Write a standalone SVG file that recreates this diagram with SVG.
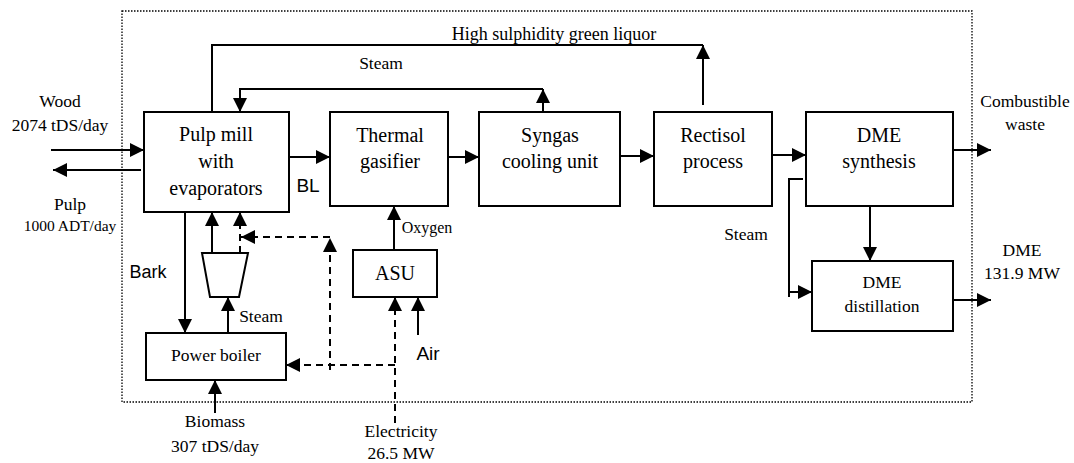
<svg xmlns="http://www.w3.org/2000/svg" width="1074" height="463" viewBox="0 0 1074 463">
<style>
.box{fill:#fff;stroke:#000;stroke-width:2}
.ln{fill:none;stroke:#000;stroke-width:2}
.ar{fill:none;stroke:#000;stroke-width:2;marker-end:url(#ah)}
.da{fill:none;stroke:#000;stroke-width:2;stroke-dasharray:7 5;marker-end:url(#ah)}
.dl{fill:none;stroke:#000;stroke-width:2;stroke-dasharray:7 5}
text{font-family:"Liberation Serif","Times New Roman",serif;fill:#000;text-anchor:middle}
.bt{font-size:20px}
.lb{font-size:17.5px}
.sm{font-size:15.5px}
.ss{font-family:"Liberation Sans",Arial,sans-serif}
</style>
<defs>
<marker id="ah" markerUnits="userSpaceOnUse" markerWidth="14" markerHeight="14" refX="14" refY="7" orient="auto">
<path d="M0,0 L14,7 L0,14 Z" fill="#000"/>
</marker>
</defs>
<rect x="122" y="11" width="850" height="391" fill="none" stroke="#000" stroke-width="1.3" stroke-dasharray="1.5 1.5"/>
<g id="connectors">
<path class="ar" d="M51,150 H144"/>
<path class="ar" d="M141,170 H53"/>
<path class="ar" d="M289,157 H330"/>
<path class="ar" d="M448,157 H479"/>
<path class="ar" d="M620,156 H654"/>
<path class="ar" d="M772,155 H806"/>
<path class="ar" d="M953,150 H991"/>
<path class="ar" d="M953,300 H991"/>
<path class="ar" d="M870,201 V261"/>
<path class="ln" d="M803,179 H789 V297"/>
<path class="ar" d="M789,292 H812"/>
<path class="ln" d="M212,112 V45 H703"/>
<path class="ar" d="M703,105 V45"/>
<path class="ar" d="M543,112 V89"/>
<path class="ar" d="M543,89 H240 V112"/>
<path class="ar" d="M394,250 V206"/>
<path class="ar" d="M185,212 V333"/>
<path class="ar" d="M212,253 V212"/>
<path class="ar" d="M228,333 V297"/>
<path class="ar" d="M215,413 V380"/>
<path class="ar" d="M418,335 V297"/>
<path class="da" d="M395,423 V297"/>
<path class="dl" d="M395,365 H300"/>
<path class="da" d="M300,365 H286"/>
<path class="da" d="M330,370 V238"/>
<path class="da" d="M330,237 H241"/>
<path class="da" d="M240,253 V212"/>
</g>
<g id="pulp-mill">
<rect class="box" x="144" y="112" width="145" height="100"/>
<text class="bt" x="216" y="141">Pulp mill</text>
<text class="bt" x="216" y="168">with</text>
<text class="bt" x="216" y="195">evaporators</text>
</g>
<g id="thermal-gasifier">
<rect class="box" x="330" y="112" width="118" height="94"/>
<text class="bt" x="390" y="142">Thermal</text>
<text class="bt" x="390" y="168">gasifier</text>
</g>
<g id="syngas-cooling">
<rect class="box" x="479" y="112" width="141" height="94"/>
<text class="bt" x="550" y="142">Syngas</text>
<text class="bt" x="550" y="168">cooling unit</text>
</g>
<g id="rectisol">
<rect class="box" x="654" y="112" width="118" height="94"/>
<text class="bt" x="713" y="142">Rectisol</text>
<text class="bt" x="713" y="168">process</text>
</g>
<g id="dme-synthesis">
<rect class="box" x="806" y="112" width="147" height="94"/>
<text class="bt" x="879" y="142">DME</text>
<text class="bt" x="879" y="168">synthesis</text>
</g>
<g id="dme-distillation">
<rect class="box" x="812" y="261" width="141" height="70"/>
<text class="lb" x="882" y="288">DME</text>
<text class="lb" x="882" y="312">distillation</text>
</g>
<g id="asu">
<rect class="box" x="353" y="250" width="84" height="47"/>
<text class="bt" x="395" y="280">ASU</text>
</g>
<g id="power-boiler">
<rect class="box" x="146" y="333" width="140" height="47"/>
<text class="lb" x="216" y="361">Power boiler</text>
</g>
<g id="turbine">
<path class="box" d="M202,253 H248 L239,297 H210 Z"/>
</g>
<g id="labels">
<text class="lb" x="60" y="107">Wood</text>
<text class="lb" x="60" y="131">2074 tDS/day</text>
<text class="lb" x="70" y="210">Pulp</text>
<text class="sm" x="70" y="231">1000 ADT/day</text>
<text class="ss" x="308" y="192" style="font-size:19px">BL</text>
<text class="ss" x="148" y="278" style="font-size:18px">Bark</text>
<text class="lb" x="554" y="40" style="font-size:18px">High sulphidity green liquor</text>
<text class="lb" x="381" y="69">Steam</text>
<text class="lb" x="427" y="233" style="font-size:16px">Oxygen</text>
<text class="lb" x="261" y="322">Steam</text>
<text class="ss" x="428" y="360" style="font-size:19px">Air</text>
<text class="lb" x="215" y="427">Biomass</text>
<text class="lb" x="215" y="452">307 tDS/day</text>
<text class="lb" x="401" y="437">Electricity</text>
<text class="lb" x="401" y="459">26.5 MW</text>
<text class="lb" x="746" y="240">Steam</text>
<text class="lb" x="1025" y="107">Combustible</text>
<text class="lb" x="1025" y="130">waste</text>
<text class="lb" x="1022" y="256">DME</text>
<text class="lb" x="1022" y="279">131.9 MW</text>
</g>
</svg>
